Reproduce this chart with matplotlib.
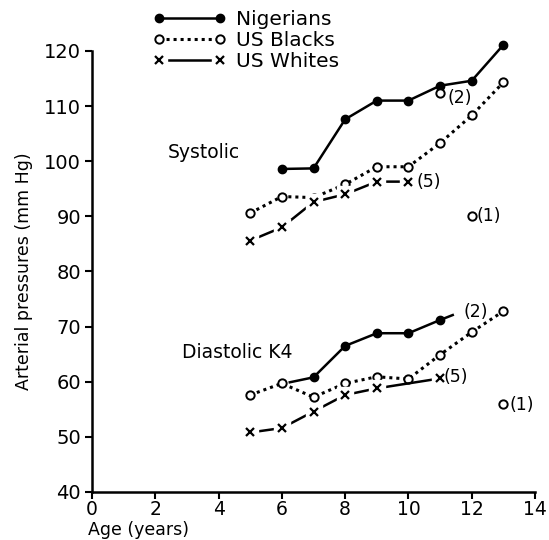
import matplotlib
matplotlib.use("Agg")
import matplotlib.pyplot as plt

# systolic
nig_sys_age = [6, 7, 8, 9, 10, 11, 12, 13]
nig_sys = [98.6, 98.7, 107.6, 111.0, 111.0, 113.7, 114.6, 121.1]
blk_sys_age = [5, 6, 7, 8, 9, 10, 11, 12, 13]
blk_sys = [90.6, 93.6, 93.4, 95.8, 99.0, 99.0, 103.3, 108.3, 114.3]
wht_sys_age = [5, 6, 7, 8, 9, 10]
wht_sys = [85.6, 88.0, 92.6, 94.0, 96.3, 96.3]

# diastolic K4
nig_dia_age = [6.25, 7, 8, 9, 10, 11, 11.4]
nig_dia = [59.9, 60.8, 66.5, 68.8, 68.8, 71.2, 72.1]
blk_dia_age = [5, 6, 7, 8, 9, 10, 11, 12, 13]
blk_dia = [57.6, 59.7, 57.2, 59.7, 60.9, 60.5, 64.9, 69.0, 72.8]
wht_dia_age = [5, 6, 7, 8, 9, 11]
wht_dia = [50.8, 51.6, 54.6, 57.6, 58.8, 60.6]

# single points with sample sizes
extra_age = [11, 12, 13]
extra_val = [112.4, 90.1, 55.9]

plt.rcParams['font.family'] = ['DejaVu Sans']
fig = plt.figure(figsize=(5.49, 5.40), dpi=100)
ax = fig.add_axes([0.1676, 0.0889, 0.8069, 0.8167])

dots = (0, (1, 1.3))


def nigerians(x, y, mk=None):
    return ax.plot(x, y, color='black', lw=1.8, marker='o', ms=6,
                   markevery=mk, clip_on=False)[0]


def blacks(x, y):
    return ax.plot(x, y, color='black', lw=2.2, ls=dots, marker='o', ms=6,
                   mfc='white', mew=1.4, clip_on=False)[0]


def whites(x, y):
    l1 = ax.plot(x, y, color='black', lw=1.8)[0]
    l2 = ax.plot(x, y, ls='none', marker='s', ms=12, mfc='white', mec='white')[0]
    l3 = ax.plot(x, y, ls='none', marker='x', ms=6, mew=1.6, color='black')[0]
    return (l1, l2, l3)


h_nig = nigerians(nig_sys_age, nig_sys)
h_blk = blacks(blk_sys_age, blk_sys)
h_wht = whites(wht_sys_age, wht_sys)
nigerians(nig_dia_age, nig_dia, mk=[1, 2, 3, 4, 5])
blacks(blk_dia_age, blk_dia)
whites(wht_dia_age, wht_dia)
ax.plot(extra_age, extra_val, ls='none', marker='o', ms=6, mfc='white',
        mec='black', mew=1.4)

fs = 12.5
ax.text(11.22, 111.5, '(2)', fontsize=fs, va='center')
ax.text(12.14, 90.1, '(1)', fontsize=fs, va='center')
ax.text(10.26, 96.3, '(5)', fontsize=fs, va='center')
ax.text(11.1, 60.9, '(5)', fontsize=fs, va='center')
ax.text(13.2, 55.8, '(1)', fontsize=fs, va='center')
ax.text(12.52, 72.7, '(2)', fontsize=fs, va='center', ha='right')
ax.text(2.4, 101.5, 'Systolic', fontsize=13.5, va='center')
ax.text(2.83, 65.3, 'Diastolic K4', fontsize=13.5, va='center')

ax.legend([h_nig, h_blk, h_wht], ['Nigerians', 'US Blacks', 'US Whites'],
          numpoints=2, handlelength=3.6, frameon=False, fontsize=14.5,
          loc='upper left', bbox_to_anchor=(0.12, 1.112), labelspacing=0.12,
          handletextpad=0.5, borderaxespad=0)

ax.set_xlim(0, 14)
ax.set_ylim(40, 120)
ax.set_xticks(range(0, 15, 2))
ax.set_yticks(range(40, 121, 10))
ax.spines['top'].set_visible(False)
ax.spines['right'].set_visible(False)
for s in ['left', 'bottom']:
    ax.spines[s].set_linewidth(1.8)
ax.tick_params(direction='out', length=5, width=1.5, labelsize=14, pad=3)
ax.tick_params(axis='x', labelsize=13.5, pad=1)
ax.set_ylabel('Arterial pressures (mm Hg)', fontsize=12.5, labelpad=8)
ax.set_xlabel('Age (years)', fontsize=12.5, loc='left')
ax.xaxis.set_label_coords(-0.01, -0.066)
ax.xaxis.label.set_ha('left')

fig.savefig('out.png', dpi=100)
